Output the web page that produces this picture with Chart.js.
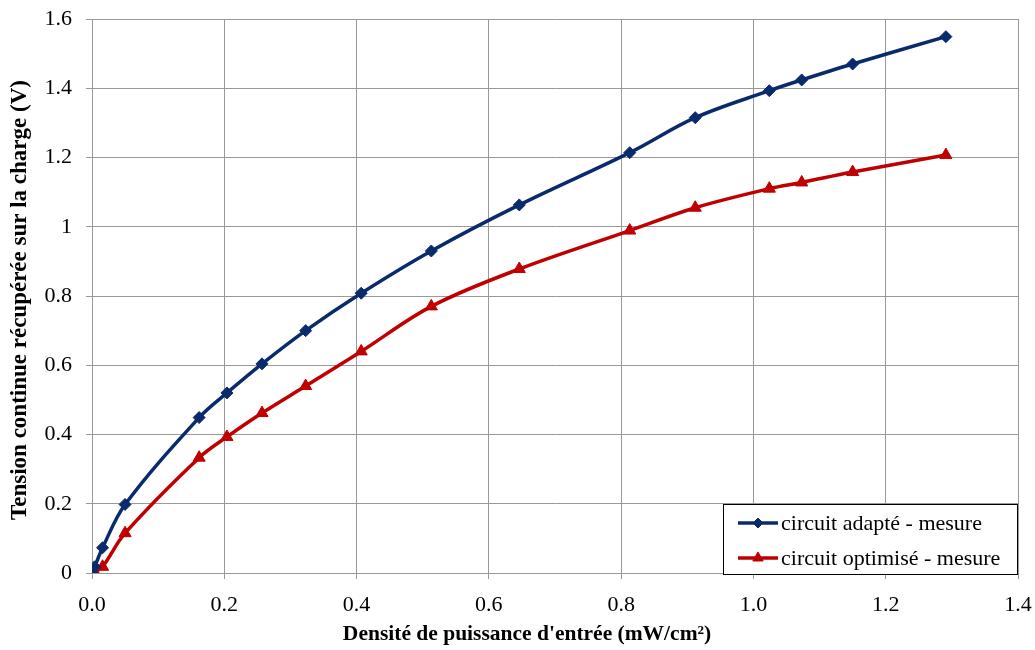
<!DOCTYPE html>
<html>
<head>
<meta charset="utf-8">
<script src="https://cdn.jsdelivr.net/npm/chart.js@4/dist/chart.umd.min.js"></script>
<style>
  html, body { margin: 0; padding: 0; background: #fff; }
  #wrap { width: 1035px; height: 650px; }
</style>
</head>
<body>
<div id="wrap"><canvas id="c" width="1035" height="650"></canvas></div>
<script>
// power density (mW/cm2)
const density = [0, 0.004, 0.016, 0.05, 0.162, 0.204, 0.257, 0.323, 0.407, 0.513, 0.646, 0.813, 0.912, 1.024, 1.073, 1.150, 1.291];
const adapte = [0, 0.018, 0.073, 0.198, 0.449, 0.520, 0.604, 0.700, 0.808, 0.930, 1.063, 1.214, 1.315, 1.393, 1.424, 1.470, 1.549];
const optimise = [0, 0.003, 0.018, 0.115, 0.333, 0.393, 0.462, 0.540, 0.640, 0.770, 0.878, 0.989, 1.055, 1.110, 1.128, 1.158, 1.207];
const seriesNames = ['circuit adapté - mesure', 'circuit optimisé - mesure'];
const xTitle = "Densité de puissance d'entrée (mW/cm²)";
const yTitle = 'Tension continue récupérée sur la charge (V)';

const BLUE = '#0a2a6e';
const RED = '#c00000';
const FONT = '"Liberation Serif", "Times New Roman", serif';

function pts(ys) {
  return density.map((x, i) => ({ x: x, y: ys[i] }));
}

// legend box inside the plot (bottom right) + axis titles centred like the original
const extras = {
  id: 'extras',
  afterDraw(chart) {
    const ctx = chart.ctx;
    const a = chart.chartArea;
    const w = 295, h = 71;
    const x0 = a.right - w, y0 = a.bottom + 2 - h;
    ctx.save();
    ctx.fillStyle = '#fff';
    ctx.fillRect(x0, y0, w, h);
    ctx.strokeStyle = '#000';
    ctx.lineWidth = 1;
    ctx.strokeRect(x0 + 0.5, y0 + 0.5, w - 1, h - 1);
    ctx.font = '22px ' + FONT;
    ctx.textBaseline = 'middle';
    chart.data.datasets.forEach((ds, i) => {
      const cy = y0 + 19 + i * 35;
      ctx.strokeStyle = ds.borderColor;
      ctx.lineWidth = 3.5;
      ctx.beginPath();
      ctx.moveTo(x0 + 15, cy);
      ctx.lineTo(x0 + 55, cy);
      ctx.stroke();
      ctx.fillStyle = ds.backgroundColor;
      ctx.lineWidth = 1;
      Chart.helpers.drawPoint(ctx, {
        pointStyle: ds.pointStyle,
        radius: ds.pointRadius - 1,
        borderWidth: 1
      }, x0 + 35, cy);
      ctx.fillStyle = '#000';
      ctx.fillText(ds.label, x0 + 58, cy + 1);
    });

    ctx.fillStyle = '#000';
    ctx.textAlign = 'center';
    ctx.font = 'bold 21.5px ' + FONT;
    ctx.fillText(xTitle, 527, 634);
    ctx.translate(20, 300);
    ctx.rotate(-Math.PI / 2);
    ctx.font = 'bold 23px ' + FONT;
    ctx.fillText(yTitle, 0, 0);
    ctx.restore();
  }
};

new Chart(document.getElementById('c').getContext('2d'), {
  type: 'scatter',
  data: {
    datasets: [
      {
        label: seriesNames[0],
        data: pts(adapte),
        showLine: true,
        borderColor: BLUE,
        backgroundColor: BLUE,
        borderWidth: 3.5,
        pointStyle: 'rectRot',
        pointRadius: 6,
        pointBorderWidth: 1,
        tension: 0.35
      },
      {
        label: seriesNames[1],
        data: pts(optimise),
        showLine: true,
        borderColor: RED,
        backgroundColor: RED,
        borderWidth: 3.5,
        pointStyle: 'triangle',
        pointRadius: 7,
        pointBorderWidth: 1,
        tension: 0.35
      }
    ]
  },
  options: {
    responsive: false,
    animation: false,
    layout: { padding: { top: 19, right: 17, left: 0, bottom: 0 } },
    plugins: {
      legend: { display: false },
      tooltip: { enabled: false }
    },
    scales: {
      x: {
        type: 'linear',
        min: 0,
        max: 1.4,
        afterFit(s) { s.height = 77; s.paddingLeft = 0; s.paddingRight = 0; },
        ticks: {
          stepSize: 0.2,
          padding: 13,
          color: '#000',
          font: { family: FONT, size: 22 },
          callback: v => v.toFixed(1)
        },
        grid: { color: '#999', lineWidth: 1, tickLength: 6 },
        border: { color: '#999' }
      },
      y: {
        type: 'linear',
        min: 0,
        max: 1.6,
        afterFit(s) { s.width = 92; s.paddingTop = 0; s.paddingBottom = 0; },
        ticks: {
          stepSize: 0.2,
          padding: 14,
          color: '#000',
          font: { family: FONT, size: 22 },
          callback: v => String(Math.round(v * 10) / 10)
        },
        grid: { color: '#999', lineWidth: 1, tickLength: 6 },
        border: { color: '#999' }
      }
    }
  },
  plugins: [extras]
});
</script>
</body>
</html>
